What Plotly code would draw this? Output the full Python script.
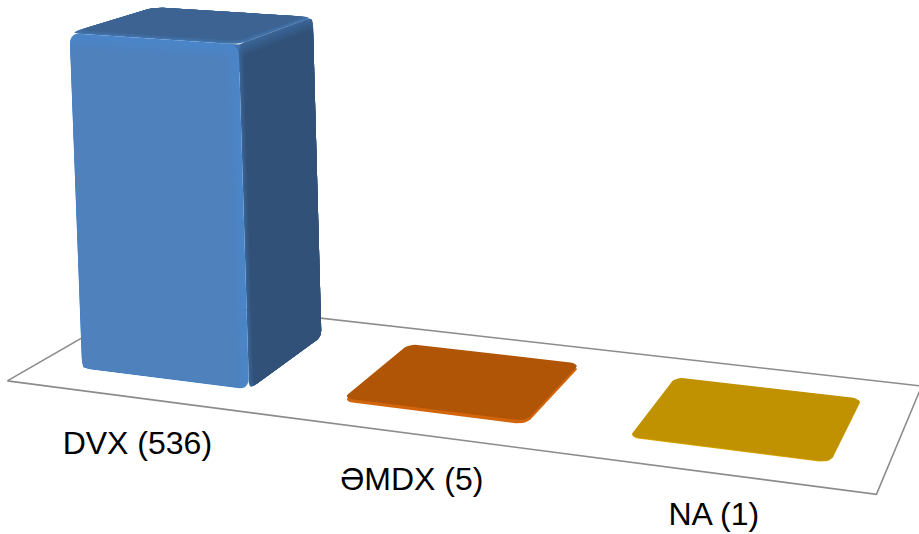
import numpy as np
import plotly.graph_objects as go

categories = ["DVX", "ƏMDX", "NA"]
values = [536, 5, 1]
front_colors = ["#4f81bd", "#b05405", "#c09100"]
rim_colors = ["#4a86c9", "#d2640a", "#e0aa00"]

AXIS_MAX = 536
BAR_GAP = 0.175     # space left on each side of a bar inside its category slot
BAR_INSET = 0.20    # same, along the depth axis
LABEL_DROP = [-0.142, -0.136, -0.118]

# Perspective camera: category / depth / normalised value -> canvas pixels
CAMERA = np.array([
    [250.508037, 162.314043, -13.790787, 7.361512],
    [15.700399, -42.210498, -342.023861, 380.908781],
    [-0.044707, 0.133583, -0.014618, 1.0],
])


def project(x, y, z):
    h = CAMERA @ np.array([x, y, z, 1.0])
    return h[0] / h[2], h[1] / h[2]


def rounded(u0, u1, v0, v1, ru, rv, steps=6):
    """Outline of a rounded rectangle in a face's own (u, v) coordinates."""
    pts = []
    corners = [(u1 - ru, v1 - rv, 0), (u0 + ru, v1 - rv, 90),
               (u0 + ru, v0 + rv, 180), (u1 - ru, v0 + rv, 270)]
    for cu, cv, start in corners:
        for a in np.radians(np.linspace(start, start + 90, steps)):
            pts.append((cu + ru * np.cos(a), cv + rv * np.sin(a)))
    pts.append(pts[0])
    return pts


def mix(c1, c2, t):
    a = [int(c1[i:i + 2], 16) for i in (1, 3, 5)]
    b = [int(c2[i:i + 2], 16) for i in (1, 3, 5)]
    return "rgb(%d,%d,%d)" % tuple(round(p + (q - p) * t) for p, q in zip(a, b))


fig = go.Figure()


def add_polygon(world_points, color):
    xy = [project(*p) for p in world_points]
    fig.add_trace(go.Scatter(
        x=[p[0] for p in xy], y=[p[1] for p in xy],
        mode="lines", fill="toself", fillcolor=color,
        line=dict(width=0, color=color), hoverinfo="skip", showlegend=False,
    ))


# Floor of the chart
floor = [(0, 0, 0), (3, 0, 0), (3, 1, 0), (0, 1, 0), (0, 0, 0)]
floor_xy = [project(*p) for p in floor]
fig.add_trace(go.Scatter(
    x=[p[0] for p in floor_xy], y=[p[1] for p in floor_xy],
    mode="lines", line=dict(color="#8c8c8c", width=1.6),
    hoverinfo="skip", showlegend=False,
))


def draw_column(i, value):
    x0, x1 = i + BAR_GAP, i + 1 - BAR_GAP
    y0, y1 = BAR_INSET, 1 - BAR_INSET
    z1 = value / AXIS_MAX

    top_flat, top_edge = "#3c6391", "#4274ad"
    side_flat, side_edge = "#315178", "#3a6496"
    front_flat, front_edge = front_colors[i], rim_colors[i]

    # backing under the three faces so no seam shows where their rounded corners meet
    add_polygon([(x1 - 0.06, y0, z1 - 0.05), (x1 - 0.06, y0, z1), (x1, y0, z1),
                 (x1, y0 + 0.1, z1), (x1, y0 + 0.1, z1 - 0.08), (x1, y0, z1 - 0.08),
                 (x1 - 0.06, y0, z1 - 0.05)], top_edge)

    # top face, lighter toward the front and right edges
    for t in np.linspace(0, 1, 6):
        pts = rounded(x0, x1 - 0.04 * t, y0 + 0.07 * t, y1, 0.035, 0.05)
        add_polygon([(u, v, z1) for u, v in pts], mix(top_edge, top_flat, t))

    # right-hand face, lighter along its top edge
    for t in np.linspace(0, 1, 6):
        pts = rounded(y0 + 0.035 * t, y1, 0.0, z1 - 0.035 * t, 0.035, 0.02)
        add_polygon([(x1, u, v) for u, v in pts], mix(side_edge, side_flat, t))

    # front face, with a soft bright bevel on the top and right
    for t in np.linspace(0, 1, 8):
        pts = rounded(x0 + 0.004 * t, x1 - 0.05 * t, 0.003 * t, z1 - 0.045 * t,
                      0.03 * (1 - t) + 0.005, 0.028 * (1 - t) + 0.003)
        add_polygon([(u, y0, v) for u, v in pts], mix(front_edge, front_flat, t))


def draw_tile(i, value):
    x0, x1 = i + BAR_GAP, i + 1 - BAR_GAP
    y0, y1 = BAR_INSET, 1 - BAR_INSET
    z1 = value / AXIS_MAX
    outline = rounded(x0, x1, y0, y1, 0.035, 0.045)
    add_polygon([(u, v, 0) for u, v in outline], rim_colors[i])
    add_polygon([(u, v, z1) for u, v in outline], front_colors[i])


for i, value in enumerate(values):
    if value / AXIS_MAX > 0.1:
        draw_column(i, value)
    else:
        draw_tile(i, value)

# Category labels hang below the middle of each slot on the front edge
label_xy = [project(i + 0.5, 0, LABEL_DROP[i]) for i in range(len(categories))]
fig.add_trace(go.Scatter(
    x=[p[0] for p in label_xy], y=[p[1] for p in label_xy],
    mode="text", text=[f"{c} ({v})" for c, v in zip(categories, values)],
    textposition="middle center", cliponaxis=False,
    textfont=dict(family="Liberation Sans, Arial, sans-serif", size=32, color="#000000"),
    hoverinfo="skip", showlegend=False,
))

fig.update_layout(
    width=919, height=534, margin=dict(l=0, r=0, t=0, b=0, pad=0),
    paper_bgcolor="#ffffff", plot_bgcolor="#ffffff", showlegend=False,
    xaxis=dict(range=[0, 919], visible=False, fixedrange=True),
    yaxis=dict(range=[534, 0], visible=False, fixedrange=True),
)
fig.write_html("out.html")
